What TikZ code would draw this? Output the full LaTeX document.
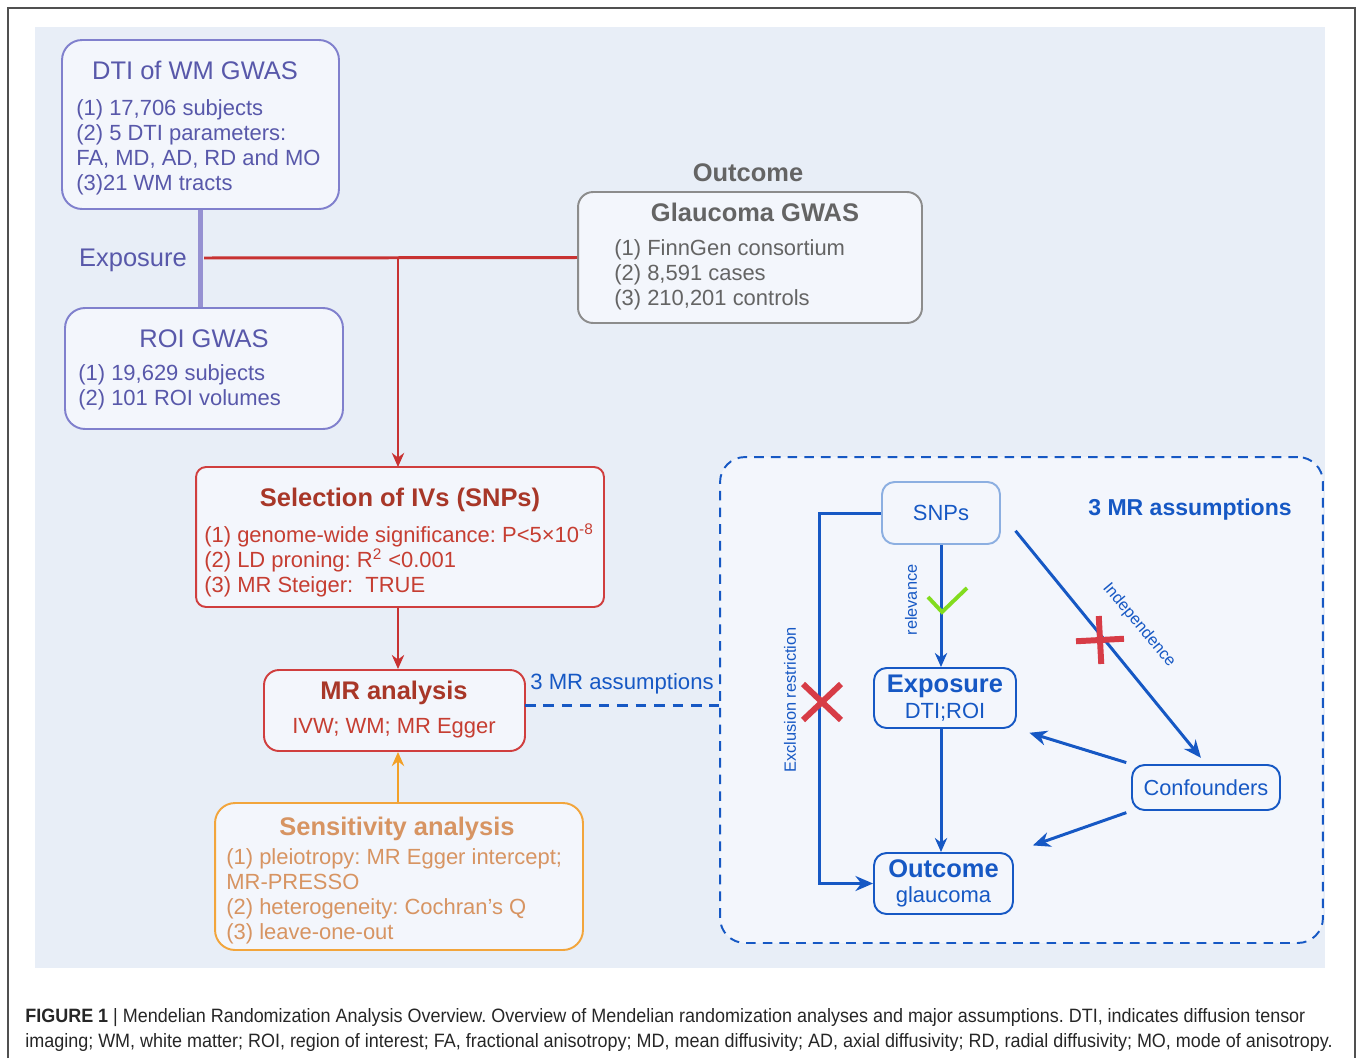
\documentclass[tikz,border=0pt]{standalone}
\usepackage{fontspec}
\setmainfont{Liberation Sans}
\newfontfamily\capfont[FakeStretch=0.93]{Liberation Sans}
\usepackage{xcolor}
\usetikzlibrary{positioning,arrows.meta,shapes.misc}
\frenchspacing
\definecolor{panelbg}{RGB}{232,238,247}
\definecolor{boxfill}{RGB}{243,246,252}
\definecolor{framegray}{RGB}{80,80,80}
\definecolor{dtiline}{RGB}{128,128,205}
\definecolor{dtitext}{RGB}{88,88,170}
\definecolor{expline}{RGB}{150,145,210}
\definecolor{linkred}{RGB}{200,50,50}
\definecolor{selline}{RGB}{208,62,62}
\definecolor{seltitle}{RGB}{168,55,40}
\definecolor{seltext}{RGB}{198,62,50}
\definecolor{gwasgray}{RGB}{140,140,140}
\definecolor{graytext}{RGB}{100,100,100}
\definecolor{sensline}{RGB}{242,165,60}
\definecolor{sensarrow}{RGB}{242,160,40}
\definecolor{senstext}{RGB}{215,148,98}
\definecolor{mrblue}{RGB}{22,88,196}
\definecolor{snpline}{RGB}{140,175,225}
\definecolor{crossred}{RGB}{215,60,70}
\definecolor{checkgreen}{RGB}{130,220,30}

\begin{document}
\begin{tikzpicture}[x=0.02cm, y=-0.02cm,
    box/.style={rectangle, fill=boxfill, line width=1.1pt, inner sep=0pt},
    dtibox/.style={box, draw=dtiline, rounded corners=0.4cm},
    gwasbox/.style={box, draw=gwasgray, rounded corners=0.3cm},
    selbox/.style={box, draw=selline, rounded corners=0.2cm},
    sensbox/.style={box, draw=sensline, rounded corners=0.4cm},
    assumbox/.style={box, draw=mrblue, dash pattern=on 5.5pt off 4pt, rounded corners=0.5cm},
    mrnode/.style={box, draw=mrblue, rounded corners=0.25cm, text=mrblue, align=center},
    title/.style={anchor=base, font=\fontsize{14.5}{17}\selectfont},
    list/.style={anchor=base west, align=left, inner sep=0pt, font=\fontsize{12.5}{14.2}\selectfont},
    smalllabel/.style={text=mrblue, font=\fontsize{9.3}{11}\selectfont, inner sep=0pt},
    xmark/.style={cross out, draw=crossred, line width=3.4pt, inner sep=0pt},
    arrow/.style={->, >={Stealth[length=10pt,width=8.5pt]}, line width=1.7pt},
    smallarrow/.style={arrow, >={Stealth[length=8pt,width=7pt]}}
]
\useasboundingbox (0,0) rectangle (1358,1058);

% frame and panel
\draw[framegray, line width=0.9pt] (8,1058) -- (8,8) -- (1355,8) -- (1355,1058);
\fill[panelbg] (35,27) rectangle (1325,968);

% exposure GWAS (list nodes sit on their last baseline)
\node[dtibox, minimum width=5.54cm, minimum height=3.38cm] (dti) at (200.5,124.5) {};
\node[title, text=dtitext] (dtititle) at (195,79) {DTI of WM GWAS};
\node[list, text=dtitext] (dtilist) at (76,190.5) {(1) 17,706 subjects\\(2) 5 DTI parameters:\\FA, MD, AD, RD and MO\\(3)21 WM tracts};

\node[dtibox, minimum width=5.56cm, minimum height=2.42cm] (roi) at (204,368.5) {};
\node[title, text=dtitext] (roititle) at (204,347) {ROI GWAS};
\node[list, text=dtitext] (roilist) at (78,405.5) {(1) 19,629 subjects\\(2) 101 ROI volumes};

\draw[expline, line width=2.8pt] (dti.south) -- (dti.south |- roi.north);
\node[title, text=dtitext] (explabel) at (133,266) {Exposure};

% outcome GWAS
\node[title, text=graytext, font=\fontsize{14.5}{17}\selectfont\bfseries] (outlabel) at (748,181) {Outcome};
\node[gwasbox, minimum width=6.88cm, minimum height=2.62cm] (glauc) at (750,257.5) {};
\node[title, text=graytext, font=\fontsize{14.5}{17}\selectfont\bfseries] (glauctitle) at (755,221) {Glaucoma GWAS};
\node[list, text=graytext] (glauclist) at (614,305.5) {(1) FinnGen consortium\\(2) 8,591 cases\\(3) 210,201 controls};

\coordinate (join) at (204,258);
\coordinate (split) at (398,258);
\draw[linkred, line width=1.7pt] (join) -- (glauc.west);
\draw[smallarrow, linkred] (split) -- (split |- 0,467);

% selection of IVs
\node[selbox, minimum width=8.16cm, minimum height=2.8cm] (sel) at (400,537) {};
\node[title, text=seltitle, font=\fontsize{14.5}{17}\selectfont\bfseries] (seltitle) at (400,506) {Selection of IVs (SNPs)};
\node[list, text=seltext] (sellist) at (204,592.5) {(1) genome-wide significance: P<5×10\textsuperscript{-8}\\(2) LD proning: R\textsuperscript{2} <0.001\\(3) MR Steiger:\ \ TRUE};

% MR analysis
\node[selbox, rounded corners=0.3cm, minimum width=5.22cm, minimum height=1.62cm] (mr) at (394.5,710.5) {};
\node[title, text=seltitle, font=\fontsize{14.5}{17}\selectfont\bfseries] (mrtitle) at (394,699) {MR analysis};
\node[title, text=seltext, font=\fontsize{12.5}{15}\selectfont] (mrmethods) at (394,733.5) {IVW; WM; MR Egger};
\draw[smallarrow, linkred] (split |- sel.south) -- (split |- mr.north);

% sensitivity analysis
\node[sensbox, minimum width=7.36cm, minimum height=2.94cm] (sens) at (399,876.5) {};
\node[title, text=senstext, font=\fontsize{14.5}{17}\selectfont\bfseries] (senstitle) at (397,835) {Sensitivity analysis};
\node[list, text=senstext] (senslist) at (226,939.5) {(1) pleiotropy: MR Egger intercept;\\MR-PRESSO\\(2) heterogeneity: Cochran's Q\\(3) leave-one-out};
\draw[smallarrow, sensarrow] (split |- sens.north) -- (split |- mr.south);

% three MR assumptions
\node[assumbox, minimum width=12.06cm, minimum height=9.72cm] (assum) at (1021.5,700) {};
\coordinate (mrport) at (525,705);
\draw[mrblue, line width=1.7pt, dash pattern=on 6pt off 4.5pt] (mrport) -- (mrport -| assum.west);
\node[title, text=mrblue, font=\fontsize{12.6}{15}\selectfont] (mrlabel) at (622,689.5) {3 MR assumptions};
\node[title, text=mrblue, font=\fontsize{13.1}{15}\selectfont\bfseries] (assumtitle) at (1190,515) {3 MR assumptions};

\node[mrnode, draw=snpline, minimum width=2.36cm, minimum height=1.24cm, font=\fontsize{12.5}{15}\selectfont] (snps) at (941,513) {SNPs};
\node[mrnode, minimum width=2.84cm, minimum height=1.2cm] (expo) at (945,698) {\fontsize{14.5}{17}\selectfont\bfseries Exposure\\[3pt]\fontsize{12.5}{15}\selectfont DTI;ROI};
\node[mrnode, minimum width=2.78cm, minimum height=1.22cm] (outc) at (943.5,883.5) {\fontsize{14.5}{17}\selectfont\bfseries Outcome\\[2pt]\fontsize{12.5}{15}\selectfont glaucoma};
\node[mrnode, minimum width=2.96cm, minimum height=0.9cm, font=\fontsize{12.4}{15}\selectfont] (conf) at (1206,787.5) {Confounders};

\draw[smallarrow, mrblue] (snps.south) -- (snps.south |- expo.north);
\draw[smallarrow, mrblue] (snps.south |- expo.south) -- (snps.south |- outc.north);
\draw[arrow, mrblue] (snps.west) -- ++(-62,0) |- (outc.west);
\draw[arrow, mrblue, shorten <=0.46cm, shorten >=0.16cm] (snps.east) -- (conf.north);
\draw[arrow, mrblue, shorten <=0.1cm, shorten >=0.26cm] (conf.north west) -- (expo.south east);
\draw[arrow, mrblue, shorten <=0.1cm, shorten >=0.4cm] (conf.south west) -- (outc.north east);

\node[smalllabel, rotate=90] (exclabel) at (790,700) {Exclusion restriction};
\node[smalllabel, rotate=90] (rellabel) at (911,600) {relevance};
\node[smalllabel, rotate=-50] (indlabel) at (1139,625) {Independence};

\node[xmark, minimum width=0.64cm, minimum height=0.6cm] (xexcl) at (822,702) {};
\node[xmark, minimum size=0.56cm, rotate=48] (xind) at (1100,640) {};
\draw[checkgreen, line width=2.2pt] (928,597) -- (942,612) -- (967,588);

% caption
\node[anchor=base west, align=left, inner sep=0pt, text=black!85, font=\capfont\fontsize{11}{14.2}\selectfont] (caption) at (25,1047) {\textbf{FIGURE 1} | Mendelian Randomization Analysis Overview. Overview of Mendelian randomization analyses and major assumptions. DTI, indicates diffusion tensor\\imaging; WM, white matter; ROI, region of interest; FA, fractional anisotropy; MD, mean diffusivity; AD, axial diffusivity; RD, radial diffusivity; MO, mode of anisotropy.};
\end{tikzpicture}
\end{document}
